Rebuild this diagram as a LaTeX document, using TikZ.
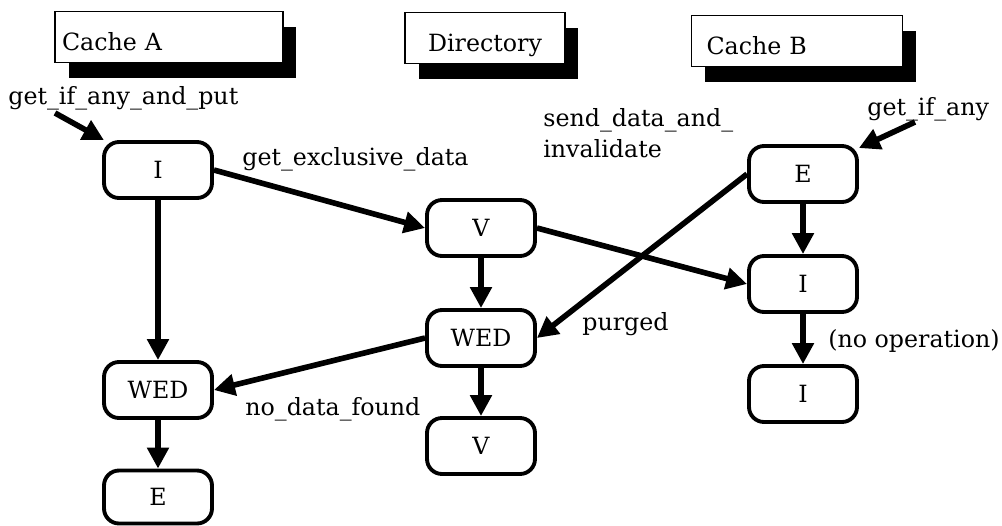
\documentclass[tikz,border=0pt]{standalone}
\usepackage{fontspec}
\setmainfont{DejaVu Serif}
\usetikzlibrary{arrows.meta, positioning, shadows}
\tikzset{
  head/.style={rectangle, draw=black, line width=1.1pt, fill=white,
               inner ysep=0pt, text height=0.77cm, text depth=0.25cm,
               align=left,
               drop shadow={shadow xshift=0.27cm, shadow yshift=-0.31cm,
                            fill=black, opacity=1}},
  state/.style={rectangle, rounded corners=0.3cm, draw=black, line width=2.2pt,
                fill=white, minimum width=2.16cm, minimum height=1.12cm,
                inner sep=0pt},
  arrow/.style={-{Triangle[length=0.42cm, width=0.42cm]}, line width=3.2pt},
  lbl/.style={anchor=base west, inner sep=0pt, align=left},
}

\begin{document}
\begin{tikzpicture}[x=0.02cm, y=-0.02cm, font=\fontsize{13.5}{17.6}\selectfont]
  \useasboundingbox (0,0) rectangle (1002,525);

  % Column heads
  \node[head, inner xsep=0.14cm, text width=4.28cm] (cacheA) at (169,37) {Cache A};
  \node[head, minimum width=3.2cm] (dir) at (485,38) {Directory};
  \node[head, inner xsep=0.3cm, text width=3.62cm] (cacheB) at (797,41) {Cache B};

  % Cache A
  \node[state] (IA) at (158,170) {I};
  \node[state] (WEDA) at (158,390) {WED};
  \node[state, minimum height=1.06cm] (EA) at (158,497) {E};

  % Directory
  \node[state] (VD) at (481,228) {V};
  \node[state] (WEDD) at (481,338) {WED};
  \node[state] (VDD) at (481,446) {V};

  % Cache B
  \node[state] (EB) at (803,174) {E};
  \node[state] (IB) at (803,284) {I};
  \node[state] (IBB) at (803,394) {I};

  \coordinate (inA) at (55,113);
  \coordinate (inB) at (915,122);

  \draw[arrow] (inA) -- (IA);
  \draw[arrow] (inB) -- (EB);
  \draw[arrow] (IA) -- (WEDA);
  \draw[arrow] (WEDA) -- (EA);
  \draw[arrow] (IA.east) -- (VD.west);
  \draw[arrow] (VD) -- (WEDD);
  \draw[arrow] (WEDD) -- (VDD);
  \draw[arrow] (VD.east) -- (IB.west);
  \draw[arrow] (EB.west) -- (WEDD.east);
  \draw[arrow] (WEDD.west) -- (WEDA.east);
  \draw[arrow] (EB) -- (IB);
  \draw[arrow] (IB) -- (IBB);

  % Labels
  \node[lbl] (lput) at (8,104) {get\_if\_any\_and\_put};
  \node[lbl] (lany) at (867,115) {get\_if\_any};
  \node[lbl] (lexcl) at (242,165) {get\_exclusive\_data};
  \node[lbl] (lsend) at (543,157) {send\_data\_and\_\\invalidate};
  \node[lbl] (lpurge) at (582,330) {purged};
  \node[lbl] (lnoop) at (828,347) {(no operation)};
  \node[lbl] (lnodata) at (245,415) {no\_data\_found};
\end{tikzpicture}
\end{document}
